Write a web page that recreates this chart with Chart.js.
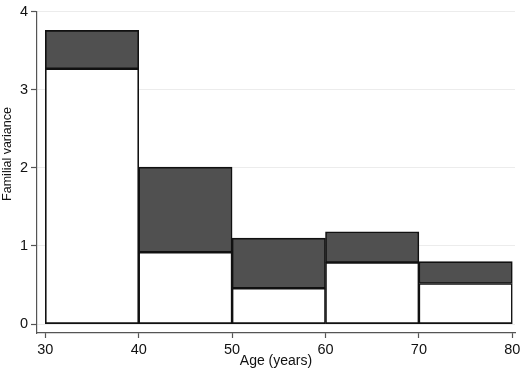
<!DOCTYPE html>
<html>
<head>
<meta charset="utf-8">
<script src="https://cdn.jsdelivr.net/npm/chart.js@4"></script>
<style>
  html, body { margin: 0; padding: 0; background: #fff; }
  #wrap { width: 520px; height: 370px; }
</style>
</head>
<body>
<div id="wrap"><canvas id="myChart"></canvas></div>
<script>
// age bin edges
const ageBins = [30, 40, 50, 60, 70, 80];
// lower (white) part of each bar
const lowerValues = [3.27, 0.92, 0.46, 0.79, 0.52];
// top of each bar (dark part sits between lower and total)
const totalValues = [3.76, 2.01, 1.10, 1.18, 0.80];
const yTicks = [0, 1, 2, 3, 4];

const mids = lowerValues.map((v, i) => (ageBins[i] + ageBins[i + 1]) / 2);

const FONT = "'Liberation Sans', Arial, sans-serif";
const AXIS = '#555';

// y title drawn by hand, it sits a bit above the middle in the original
const yTitle = {
  id: 'yTitle',
  afterDraw(chart) {
    const ctx = chart.ctx;
    ctx.save();
    ctx.translate(8, 154);
    ctx.rotate(-Math.PI / 2);
    ctx.font = '12.5px ' + FONT;
    ctx.fillStyle = '#111';
    ctx.textAlign = 'center';
    ctx.textBaseline = 'middle';
    ctx.fillText('Familial variance', 0, 0);
    ctx.restore();
  }
};

let myChart = new Chart(document.getElementById('myChart'), {
  type: 'bar',
  data: {
    datasets: [{
      label: 'lower',
      data: mids.map((m, i) => ({ x: m, y: [0, lowerValues[i]] })),
      backgroundColor: '#ffffff',
      borderColor: '#111',
      borderWidth: 1.6,
      borderSkipped: false,
      grouped: false,
      barPercentage: 1,
      categoryPercentage: 1
    }, {
      label: 'upper',
      data: mids.map((m, i) => ({ x: m, y: [lowerValues[i], totalValues[i]] })),
      backgroundColor: '#505050',
      borderColor: '#111',
      borderWidth: 1.6,
      borderSkipped: false,
      grouped: false,
      barPercentage: 1,
      categoryPercentage: 1
    }]
  },
  options: {
    responsive: true,
    maintainAspectRatio: false,
    animation: false,
    layout: { padding: { top: 8, right: 5, left: 0, bottom: 0 } },
    plugins: { legend: { display: false }, tooltip: { enabled: false } },
    scales: {
      x: {
        type: 'linear',
        offset: false,
        min: 29.11,
        max: 80.29,
        afterBuildTicks: s => { s.ticks = ageBins.map(v => ({ value: v })); },
        // don't let the "80" label push the plot in
        afterFit: s => { s.height = 37; s.paddingLeft = 0; s.paddingRight = 0; },
        border: { display: true, color: AXIS, width: 1.2 },
        grid: { drawOnChartArea: false, offset: false, tickLength: 5, tickColor: AXIS, tickWidth: 1.2 },
        ticks: { color: '#111', font: { family: FONT, size: 14.5 }, padding: 3, maxRotation: 0 },
        title: { display: true, text: 'Age (years)', color: '#111', font: { family: FONT, size: 14 }, padding: { top: 0, bottom: 0 } }
      },
      y: {
        min: -0.114,
        max: 4,
        afterBuildTicks: s => { s.ticks = yTicks.map(v => ({ value: v })); },
        afterFit: s => { s.width = 37; },
        border: { display: true, color: AXIS, width: 1.2 },
        grid: { color: '#ececec', lineWidth: 1, tickLength: 6, tickColor: AXIS, tickWidth: 1.2 },
        ticks: { color: '#111', font: { family: FONT, size: 14.5 }, padding: 3 }
      }
    }
  },
  plugins: [yTitle]
});
</script>
</body>
</html>
